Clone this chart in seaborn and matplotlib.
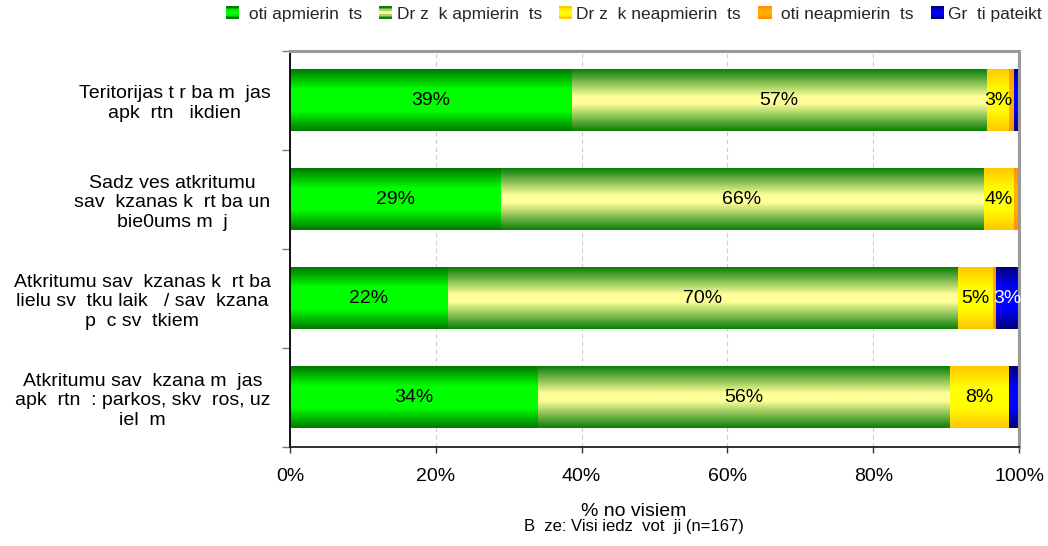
import numpy as np
import pandas as pd
import matplotlib
matplotlib.use("Agg")
import matplotlib.pyplot as plt
import seaborn as sns
from matplotlib.legend_handler import HandlerBase
from matplotlib.patches import Rectangle
from matplotlib.colors import to_rgb

# ---------------- data ----------------
categories = [
    "Teritorijas t r ba m  jas\napk  rtn   ikdien",
    "Sadz ves atkritumu\nsav  kzanas k  rt ba un\nbie0ums m  j",
    "Atkritumu sav  kzanas k  rt ba\nlielu sv  tku laik   / sav  kzana\np  c sv  tkiem",
    "Atkritumu sav  kzana m  jas\napk  rtn  : parkos, skv  ros, uz\niel  m",
]
series_names = [
    " oti apmierin  ts",
    "Dr z  k apmierin  ts",
    "Dr z  k neapmierin  ts",
    " oti neapmierin  ts",
    "Gr  ti pateikt",
]
very_satisfied = [38.6, 28.9, 21.6, 34.0]
rather_satisfied = [57.0, 66.2, 70.0, 56.4]
rather_dissatisfied = [3.0, 4.1, 4.7, 8.2]
very_dissatisfied = [0.6, 0.8, 0.5, 0.0]
hard_to_say = [0.8, 0.0, 3.2, 1.4]
x_ticks = [0, 20, 40, 60, 80, 100]
x_tick_labels = ["0%", "20%", "40%", "60%", "80%", "100%"]
x_title = "% no visiem"
base_note = "B  ze: Visi iedz  vot  ji (n=167)"

series_values = [very_satisfied, rather_satisfied, rather_dissatisfied,
                 very_dissatisfied, hard_to_say]
# (edge colour, centre colour, plateau) for vertical gradients
gradients = [
    ("#007a00", "#00ff00", 0.35),
    ("#0a7f0a", "#ffff99", 0.12),
    ("#ffc800", "#ffff00", 0.30),
    ("#ff9000", "#ffb000", 0.30),
    ("#00007a", "#0000ff", 0.35),
]
label_colors = ["black", "black", "black", "black", "white"]


def grad_img(edge, center, plateau, n=96):
    t = np.linspace(-1, 1, n)
    f = np.clip((1 - np.abs(t)) / (1 - plateau), 0, 1)
    e = np.array(to_rgb(edge))
    c = np.array(to_rgb(center))
    img = e[None, :] + (c - e)[None, :] * f[:, None]
    return img[:, None, :]


# ---------------- style ----------------
sns.set_theme(style="white")
plt.rcParams["font.family"] = ["Liberation Sans", "DejaVu Sans"]

fig = plt.figure(figsize=(10.48, 5.46), dpi=100)
ax = fig.add_axes([290 / 1048, 1 - 447 / 546, (1019 - 290) / 1048, 396 / 546])

df = pd.DataFrame({"category": categories})
cum = np.zeros(len(categories))
for name, vals in zip(series_names, series_values):
    cum = cum + np.array(vals)
    df[name] = cum.copy()

bar_width = 0.62
# draw cumulative bars from the longest to the shortest
layer_patches = {}
for k in reversed(range(len(series_names))):
    n_before = len(ax.patches)
    sns.barplot(data=df, x=series_names[k], y="category", orient="h",
                color=gradients[k][1], width=bar_width, ax=ax,
                saturation=1, linewidth=0)
    layer_patches[k] = ax.patches[n_before:]

# gradient fill overlays
for order, k in enumerate(reversed(range(len(series_names)))):
    edge, center, plateau = gradients[k]
    img = grad_img(edge, center, plateau)
    for p in layer_patches[k]:
        x0, y0 = p.get_x(), p.get_y()
        w, h = p.get_width(), p.get_height()
        if w <= 0:
            continue
        ax.imshow(img, extent=(x0, x0 + w, y0 + h, y0), aspect="auto",
                  interpolation="bilinear", zorder=2 + order * 0.1)
        p.set_visible(False)

ax.set_xlim(0, 100)
ax.set_ylim(len(categories) - 0.5, -0.5)

# data labels
prev = np.zeros(len(categories))
for k, vals in enumerate(series_values):
    for i, v in enumerate(vals):
        if v >= 2:
            ax.text(prev[i] + v / 2, i, f"{round(v):.0f}%", ha="center",
                    va="center", fontsize=14, color=label_colors[k], zorder=5)
    prev = prev + np.array(vals)

# axes styling
ax.set_xticks(x_ticks)
ax.set_xticklabels(x_tick_labels, fontsize=14, color="black")
ax.tick_params(axis="x", direction="out", length=4, width=1, color="#333333",
               pad=11, bottom=True)
ax.set_yticks(range(len(categories)))
ax.set_yticklabels(categories, fontsize=14, color="black")
for t in ax.get_yticklabels():
    t.set_multialignment("center")
    t.set_horizontalalignment("right")
ax.tick_params(axis="y", length=0, pad=14)
ax.set_yticks(np.arange(-0.5, len(categories), 1.0), minor=True)
ax.tick_params(axis="y", which="minor", direction="out", length=6, width=1,
               color="#777777", left=True)
ax.set_xlabel("")
ax.set_ylabel("")

ax.xaxis.grid(True, linestyle=(0, (4, 3)), color="#cccccc", linewidth=0.8)
ax.yaxis.grid(False)
ax.set_axisbelow(True)
ax.spines["left"].set_color("black")
ax.spines["left"].set_linewidth(1.3)
ax.spines["bottom"].set_color("#222222")
ax.spines["bottom"].set_linewidth(1.3)
for s in ["right", "top"]:
    ax.spines[s].set_color("#999999")
    ax.spines[s].set_linewidth(2.2)

fig.text(634 / 1048, 1 - 511 / 546, x_title, ha="center", va="center",
         fontsize=14, color="black")
fig.text(634 / 1048, 1 - 527 / 546, base_note, ha="center", va="center",
         fontsize=12, color="black")


# legend with gradient swatches
class GradHandle:
    def __init__(self, edge, center, plateau):
        self.edge, self.center, self.plateau = edge, center, plateau


class GradHandler(HandlerBase):
    def create_artists(self, legend, orig, xdescent, ydescent, width, height,
                       fontsize, trans):
        img = grad_img(orig.edge, orig.center, orig.plateau, n=8)[:, 0, :]
        arts = []
        n = len(img)
        for j in range(n):
            r = Rectangle((-xdescent, -ydescent + height * (n - 1 - j) / n),
                          width, height / n, facecolor=img[j], edgecolor="none",
                          transform=trans)
            arts.append(r)
        return arts


handles = [GradHandle(*g) for g in gradients]
fig.legend(handles, series_names, handler_map={GradHandle: GradHandler()},
           loc="center", bbox_to_anchor=(634 / 1048, 1 - 14 / 546), ncol=5,
           frameon=False, fontsize=12.5, handlelength=0.75, handleheight=0.75,
           handletextpad=0.25, columnspacing=1.0, borderaxespad=0)

fig.savefig("out.png", dpi=100)
